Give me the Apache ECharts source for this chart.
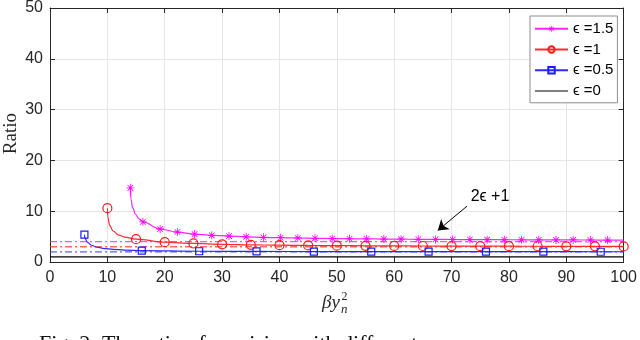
<!DOCTYPE html>
<html>
<head>
<meta charset="utf-8">
<script src="https://cdn.jsdelivr.net/npm/echarts@6/dist/echarts.min.js"></script>
<style>
  html, body { margin: 0; padding: 0; background: #fff; }
  #box { width: 640px; height: 340px; }
</style>
</head>
<body>
<div id="box"></div>
<script>
// x ticks / y ticks
let xTicks = [0, 10, 20, 30, 40, 50, 60, 70, 80, 90, 100];
let yTicks = [0, 10, 20, 30, 40, 50];

// eps = 1.5  (marked points)
let eps15X = [14, 16.2, 19.2, 22.2, 25.2, 28.2, 31.2, 34.2, 37.2, 40.2, 43.2, 46.2, 49.2, 52.2, 55.2, 58.2, 61.2, 64.2, 67.2, 70.2, 73.2, 76.2, 79.2, 82.2, 85.2, 88.2, 91.2, 94.2, 97.2];
let eps15Y = [14.6, 7.9, 6.5, 5.9, 5.5, 5.25, 5.1, 4.95, 4.85, 4.78, 4.72, 4.66, 4.62, 4.58, 4.55, 4.52, 4.49, 4.47, 4.45, 4.43, 4.41, 4.4, 4.38, 4.37, 4.36, 4.35, 4.34, 4.33, 4.32];
// eps = 1.5  (unmarked points of the curve)
let eps15Bend = [[14.1, 12.4], [14.4, 10.7], [14.9, 9.4], [15.5, 8.5], [100, 4.31]];

// eps = 1
let eps1X = [10, 15, 20, 25, 30, 35, 40, 45, 50, 55, 60, 65, 70, 75, 80, 85, 90, 95, 100];
let eps1Y = [10.6, 4.5, 3.9, 3.65, 3.48, 3.38, 3.31, 3.26, 3.22, 3.19, 3.17, 3.15, 3.13, 3.12, 3.11, 3.1, 3.09, 3.08, 3.07];
let eps1Bend = [[10.1, 8.7], [10.4, 7.2], [11, 6.1], [12, 5.3], [13, 4.9]];

// eps = 0.5
let eps05X = [6, 16, 26, 36, 46, 56, 66, 76, 86, 96];
let eps05Y = [5.4, 2.25, 2.12, 2.08, 2.06, 2.05, 2.04, 2.03, 2.03, 2.02];
let eps05Bend = [[6.1, 4.7], [6.5, 3.9], [7.2, 3.3], [8.2, 2.9], [9.5, 2.65], [11, 2.5], [13, 2.35], [100, 2.02]];

// eps = 0
let eps0X = [0, 100];
let eps0Y = [1, 1];

// 2eps+1 asymptotes
let asymX = [0, 100];
let asym15 = [4, 4];
let asym1 = [3, 3];
let asym05 = [2, 2];

// annotation
let noteText = "2ϵ +1";
let notePos = [76.7, 12.8];
let arrowFrom = [72.7, 11.0];
let arrowTo = [67.6, 6.2];

let names = ["ϵ =1.5", "ϵ =1", "ϵ =0.5", "ϵ =0"];

let starPath = "path://M-0.1,-1L0.1,-1L0.1,1L-0.1,1Z" +
  "M-1,-0.1L1,-0.1L1,0.1L-1,0.1Z" +
  "M-0.77,-0.63L-0.63,-0.77L0.77,0.63L0.63,0.77Z" +
  "M0.63,-0.77L0.77,-0.63L-0.63,0.77L-0.77,0.63Z";

function curve(xs, ys, bend) {
  let pts = xs.map((x, i) => ({ value: [x, ys[i]] }));
  bend.forEach(p => pts.push({ value: p, symbol: "none" }));
  pts.sort((a, b) => a.value[0] - b.value[0]);
  return pts;
}
function pairs(xs, ys) {
  return xs.map((x, i) => [x, ys[i]]);
}

let axisColor = "#262626";
let font = "'Liberation Sans', Arial, sans-serif";
let serif = "'Liberation Serif', 'Times New Roman', serif";

function xAx(pos, labels) {
  return {
    type: "value", position: pos, min: 0, max: 100, interval: 10,
    axisLine: { show: true, onZero: false, lineStyle: { color: axisColor, width: 1 } },
    axisTick: { show: true, inside: true, length: 5, lineStyle: { color: axisColor } },
    axisLabel: { show: labels, color: axisColor, fontSize: 16, fontFamily: font, margin: 8 },
    splitLine: { show: labels, lineStyle: { color: "#e6e6e6", width: 1 } }
  };
}
function yAx(pos, labels) {
  return {
    type: "value", position: pos, min: 0, max: 50, interval: 10,
    axisLine: { show: true, onZero: false, lineStyle: { color: axisColor, width: 1 } },
    axisTick: { show: true, inside: true, length: 5, lineStyle: { color: axisColor } },
    axisLabel: { show: labels, color: axisColor, fontSize: 16, fontFamily: font, margin: 7 },
    splitLine: { show: labels, lineStyle: { color: "#e6e6e6", width: 1 } }
  };
}

function dashLine(ys, color) {
  return {
    type: "line", data: pairs(asymX, ys), symbol: "none", silent: true,
    lineStyle: { color: color, width: 1.3, type: [7, 3, 2, 3] },
    z: 1
  };
}

let option = {
  animation: false,
  backgroundColor: "#fff",
  grid: { left: 50, right: 14, top: 7, bottom: 78 },
  xAxis: [xAx("bottom", true), xAx("top", false)],
  yAxis: [yAx("left", true), yAx("right", false)],
  legend: {
    data: [
      { name: names[0] },
      { name: names[1] },
      { name: names[2] },
      { name: names[3], icon: "path://M0,0L40,0L40,1.3L0,1.3Z" }
    ],
    orient: "vertical",
    left: 530, top: 16,
    padding: [4, 4, 3, 4],
    itemWidth: 33, itemHeight: 8, itemGap: 3,
    backgroundColor: "#fff",
    borderColor: "#8c8c8c", borderWidth: 1, borderRadius: 0,
    textStyle: { color: "#000", fontSize: 15, fontFamily: font, lineHeight: 17.7 }
  },
  graphic: [
    {
      type: "text", left: 2, top: 113, rotation: Math.PI / 2,
      style: { text: "Ratio", fontSize: 19, fontFamily: serif, fill: "#262626" },
      originX: 0, originY: 0
    },
    {
      type: "group", left: 322, top: 291,
      children: [
        { type: "text", x: 0, y: 0, style: { text: "βy", fontSize: 19, fontStyle: "italic", fontFamily: serif, fill: "#262626" } },
        { type: "text", x: 19, y: 10, style: { text: "n", fontSize: 13, fontStyle: "italic", fontFamily: serif, fill: "#262626" } },
        { type: "text", x: 19.5, y: -2, style: { text: "2", fontSize: 12, fontFamily: serif, fill: "#262626" } }
      ]
    },
    {
      type: "text", left: 39, top: 333,
      style: { text: "Fig. 2: The ratio of precision with different ϵ", fontSize: 22, fontFamily: serif, fill: "#111" }
    }
  ],
  series: [
    dashLine(asym15, "rgba(255,0,255,0.7)"),
    dashLine(asym1, "rgba(255,40,40,0.7)"),
    dashLine(asym05, "rgba(40,40,255,0.75)"),
    {
      name: names[0], type: "line", smooth: 0.35, smoothMonotone: "x",
      data: curve(eps15X, eps15Y, eps15Bend),
      symbol: starPath, symbolSize: 8, showSymbol: true, showAllSymbol: true,
      lineStyle: { color: "#ff22ff", width: 1.2 },
      itemStyle: { color: "#ff00ff", borderWidth: 0 },
      z: 3
    },
    {
      name: names[1], type: "line", smooth: 0.35, smoothMonotone: "x",
      data: curve(eps1X, eps1Y, eps1Bend),
      symbol: "circle", symbolSize: 9, showSymbol: true, showAllSymbol: true,
      lineStyle: { color: "#ff2a2a", width: 1.2 },
      itemStyle: { color: "rgba(0,0,0,0)", borderColor: "#ff1a1a", borderWidth: 1.2 },
      z: 3
    },
    {
      name: names[2], type: "line", smooth: 0.35, smoothMonotone: "x",
      data: curve(eps05X, eps05Y, eps05Bend),
      symbol: "rect", symbolSize: 7, showSymbol: true, showAllSymbol: true,
      lineStyle: { color: "#2a2aff", width: 1.2 },
      itemStyle: { color: "rgba(0,0,0,0)", borderColor: "#1a1aff", borderWidth: 1.2 },
      z: 3
    },
    {
      name: names[3], type: "line",
      data: pairs(eps0X, eps0Y), symbol: "none",
      lineStyle: { color: "#000", width: 1.2 },
      itemStyle: { color: "#000" },
      z: 3
    },
    {
      type: "scatter", data: [], silent: true,
      markLine: {
        silent: true, animation: false,
        symbol: ["none", "arrow"], symbolSize: 10,
        label: { show: false },
        lineStyle: { color: "#000", width: 1, type: "solid" },
        data: [[{ coord: arrowFrom }, { coord: arrowTo }]]
      },
      markPoint: {
        silent: true, animation: false,
        symbol: "circle", symbolSize: 1,
        itemStyle: { color: "rgba(0,0,0,0)" },
        label: { show: true, position: "inside", color: "#000", fontSize: 16, fontFamily: font },
        data: [{ coord: notePos, value: noteText }]
      }
    }
  ]
};

let chart = echarts.init(document.getElementById("box"), null, { renderer: "canvas" });
chart.setOption(option);
</script>
</body>
</html>
